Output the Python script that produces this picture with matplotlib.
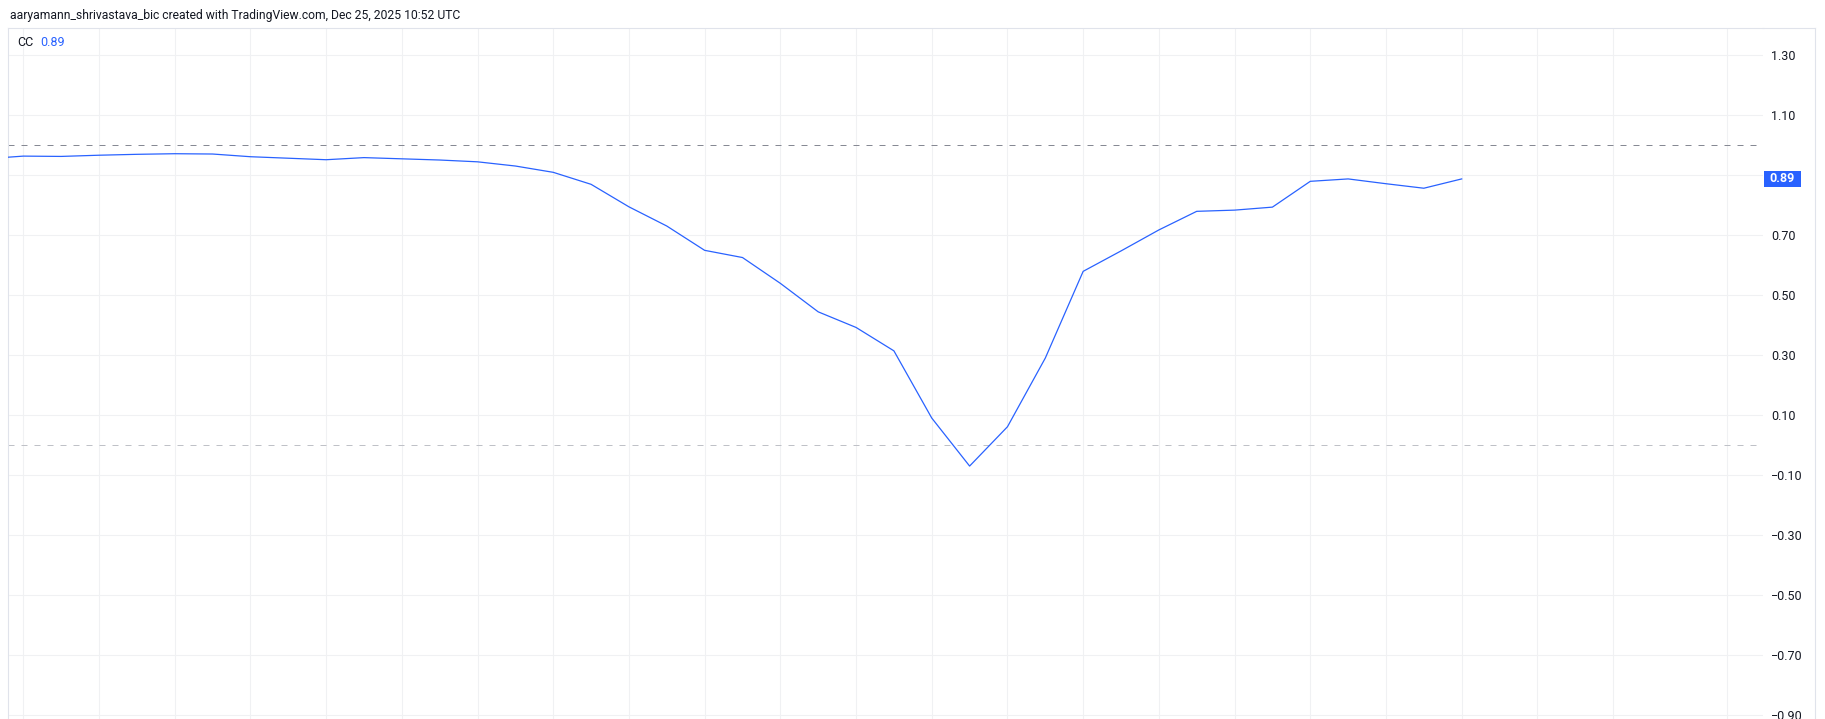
import numpy as np
import matplotlib
matplotlib.use("Agg")
import matplotlib.pyplot as plt
from matplotlib.transforms import blended_transform_factory
from matplotlib.patches import Rectangle
from matplotlib.lines import Line2D

# bar index (weekly bars), -1 is the bar cut off at the left edge
bars = list(range(-1, 39))
cc = [0.955, 0.964, 0.963, 0.967, 0.970, 0.972, 0.971, 0.962, 0.957, 0.952,
      0.959, 0.955, 0.951, 0.945, 0.931, 0.910, 0.870, 0.795, 0.731, 0.650,
      0.626, 0.540, 0.445, 0.393, 0.315, 0.091, -0.069, 0.062, 0.291, 0.580,
      0.648, 0.718, 0.780, 0.784, 0.794, 0.880, 0.888, 0.872, 0.857, 0.888]

price_levels = [-0.90, -0.70, -0.50, -0.30, -0.10, 0.10, 0.30, 0.50, 0.70, 0.90, 1.10, 1.30]
price_labels = ['\u22120.90', '\u22120.70', '\u22120.50', '\u22120.30', '\u22120.10',
                '0.10', '0.30', '0.50', '0.70', '', '1.10', '1.30']
time_grid = [0, 2, 4, 6, 8, 10, 12, 14, 16, 18, 20, 22, 24, 26, 28, 30, 32, 34,
             36, 38, 40, 42, 45]
upper_level = 1.0
lower_level = 0.0

header = "aaryamann_shrivastava_bic created with TradingView.com, Dec 25, 2025 10:52 UTC"
last_label = "0.89"

plt.rcParams['font.family'] = ['Roboto', 'DejaVu Sans']

W, H = 1825, 719
fig = plt.figure(figsize=(W / 100, H / 100), dpi=100)
fig.patch.set_facecolor('white')

# plot pane
ax = fig.add_axes([8 / W, 0, (1763 - 8) / W, 1 - 28 / H])
ax.set_xlim(-0.404, 45.96)
ax.set_ylim(-0.912, 1.391)

ax.plot(bars, cc, color='#2962ff', linewidth=0.9, zorder=3)
ax.axhline(upper_level, color='#868993', linewidth=0.72, dashes=(6, 7), zorder=2)
ax.axhline(lower_level, color='#bfc1c7', linewidth=0.72, dashes=(6, 7), zorder=2)

ax.set_xticks(time_grid)
ax.set_xticklabels([])
ax.set_yticks(price_levels)
ax.set_yticklabels(price_labels)
ax.yaxis.tick_right()
ax.tick_params(axis='both', length=0)
ax.tick_params(axis='y', pad=6, labelsize=9, labelcolor='#131722')
ax.grid(True, color='#f0f1f3', linewidth=0.8)
ax.set_axisbelow(True)

for side in ['right', 'bottom']:
    ax.spines[side].set_visible(False)
for side in ['left', 'top']:
    ax.spines[side].set_color('#e0e3eb')
    ax.spines[side].set_linewidth(0.8)

# top border over the price scale too, and the outer right border
fig.add_artist(Line2D([1763 / W, 1815 / W], [1 - 28 / H, 1 - 28 / H],
                      color='#e0e3eb', linewidth=0.8))
fig.add_artist(Line2D([1815 / W, 1815 / W], [0, 1 - 28 / H],
                      color='#e0e3eb', linewidth=0.8))

# last value marker on the price scale
tr = blended_transform_factory(ax.transAxes, ax.transData)
ax_w = 1763 - 8
box_h = 16.7 / 300
ax.add_patch(Rectangle((1 + 1 / ax_w, cc[-1] - box_h / 2), 37 / ax_w, box_h,
                       transform=tr, facecolor='#2962ff', edgecolor='none',
                       clip_on=False, zorder=5))
ax.text(1 + 19.5 / ax_w, cc[-1], last_label, transform=tr, ha='center', va='center',
        color='white', fontsize=9, fontweight='bold', zorder=6, clip_on=False)

# header and legend
fig.text(10 / W, 1 - 15 / H, header, ha='left', va='center', fontsize=8.7, color='#131722')
fig.text(17 / W, 1 - 42 / H, "CC", ha='left', va='center', fontsize=9, color='#131722')
fig.text(40 / W, 1 - 42 / H, last_label, ha='left', va='center', fontsize=9, color='#2962ff')

fig.savefig('out.png', dpi=100)
